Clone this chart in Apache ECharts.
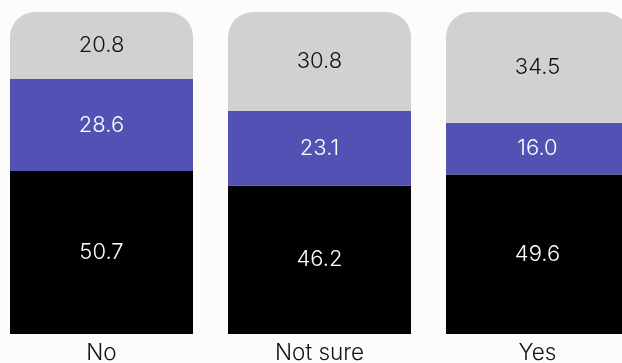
<!DOCTYPE html>
<html>
<head>
<meta charset="utf-8">
<script src="https://cdn.jsdelivr.net/npm/echarts@6/dist/echarts.min.js"></script>
<style>
  html, body { margin: 0; padding: 0; background: #fdfcfb; }
  #chart { width: 622px; height: 363px; }
</style>
</head>
<body>
<div id="chart"></div>
<script>
// Answer categories and the share (%) in each stacked segment
const categories = ['No', 'Not sure', 'Yes'];
const bottomValues = [50.7, 46.2, 49.6];
const middleValues = [28.6, 23.1, 16.0];
const topValues = [20.8, 30.8, 34.5];

const FONT = 'Inter, "Noto Sans", sans-serif';

function segment(name, data, color, textColor, radius) {
  return {
    name: name,
    type: 'bar',
    stack: 'total',
    data: data,
    barWidth: 183,
    itemStyle: { color: color, borderRadius: radius },
    label: {
      show: true,
      position: 'inside',
      color: textColor,
      fontFamily: FONT,
      fontWeight: 300,
      fontSize: 22,
      formatter: p => p.value.toFixed(1)
    },
    emphasis: { disabled: true }
  };
}

const chart = echarts.init(document.getElementById('chart'));
chart.setOption({
  backgroundColor: '#fdfcfb',
  animation: false,
  grid: { left: -7.5, width: 654, top: 12, height: 322, outerBoundsMode: 'none', containLabel: false },
  xAxis: {
    type: 'category',
    data: categories,
    axisLine: { show: false },
    axisTick: { show: false },
    axisLabel: { color: '#111', fontFamily: FONT, fontWeight: 300, fontSize: 22.5, margin: 8 }
  },
  yAxis: {
    type: 'value',
    min: 0,
    max: 100.1,
    show: false
  },
  series: [
    segment('bottom', bottomValues, '#000000', '#ffffff', 0),
    segment('middle', middleValues, '#5252b5', '#ffffff', 0),
    segment('top', topValues, '#d1d1d1', '#111111', [25, 25, 0, 0])
  ]
});
</script>
</body>
</html>
